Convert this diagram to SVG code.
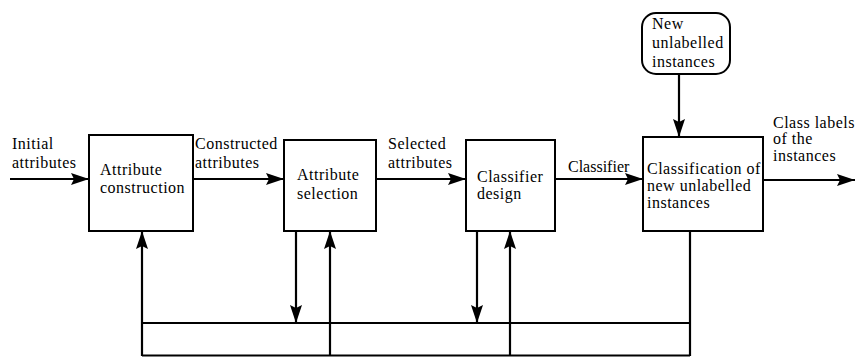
<svg xmlns="http://www.w3.org/2000/svg" width="856" height="357" viewBox="0 0 856 357">
<style>
.box{fill:#fff;stroke:#000;stroke-width:2}
.ln{fill:none;stroke:#000;stroke-width:2.2}
text{font-family:"Liberation Serif","Times New Roman",serif;font-size:16px;letter-spacing:0.5px;fill:#000}
</style>
<defs>
<marker id="ah" viewBox="0 0 18 12" refX="18" refY="6" markerWidth="18" markerHeight="12" markerUnits="userSpaceOnUse" orient="auto">
<path d="M0,0 L18,6 L0,12 L3,6 Z" fill="#000"/>
</marker>
</defs>
<g id="connectors">
<path class="ln" d="M10,179 H89" marker-end="url(#ah)"/>
<path class="ln" d="M193,179 H284" marker-end="url(#ah)"/>
<path class="ln" d="M376,179 H466" marker-end="url(#ah)"/>
<path class="ln" d="M555,179 H643" marker-end="url(#ah)"/>
<path class="ln" d="M763,180 H855" marker-end="url(#ah)"/>
<path class="ln" d="M679,74 V137" marker-end="url(#ah)"/>
<path class="ln" d="M296,231 V323" marker-end="url(#ah)"/>
<path class="ln" d="M477,231 V323" marker-end="url(#ah)"/>
<path class="ln" d="M142,356 V231" marker-end="url(#ah)"/>
<path class="ln" d="M330,356 V231" marker-end="url(#ah)"/>
<path class="ln" d="M510,356 V231" marker-end="url(#ah)"/>
<path class="ln" d="M690,231 V356"/>
<path class="ln" d="M142,323 H690"/>
<path class="ln" d="M142,355.5 H690"/>
</g>
<g id="initial-label"><text x="12" y="149">Initial</text><text x="12" y="168">attributes</text></g>
<g id="attribute-construction">
<rect class="box" x="89" y="135" width="104" height="96"/>
<text x="100" y="175">Attribute</text><text x="100" y="193">construction</text>
</g>
<g id="constructed-label"><text x="195" y="149">Constructed</text><text x="195" y="168">attributes</text></g>
<g id="attribute-selection">
<rect class="box" x="284" y="140" width="92" height="91"/>
<text x="297" y="180">Attribute</text><text x="297" y="199">selection</text>
</g>
<g id="selected-label"><text x="388" y="149">Selected</text><text x="388" y="168">attributes</text></g>
<g id="classifier-design">
<rect class="box" x="466" y="140" width="89" height="91"/>
<text x="477" y="182">Classifier</text><text x="477" y="199">design</text>
</g>
<g id="classifier-label"><text x="568" y="172" style="letter-spacing:0">Classifier</text></g>
<g id="new-instances">
<rect class="box" x="642" y="13" width="88" height="61" rx="14"/>
<text x="652" y="29">New</text><text x="652" y="48">unlabelled</text><text x="652" y="67">instances</text>
</g>
<g id="classification">
<rect class="box" x="643" y="137" width="120" height="94"/>
<text x="647" y="174">Classification of</text><text x="647" y="191">new unlabelled</text><text x="647" y="208">instances</text>
</g>
<g id="output-label"><text x="773" y="128">Class labels</text><text x="773" y="144">of the</text><text x="773" y="161">instances</text></g>
</svg>
